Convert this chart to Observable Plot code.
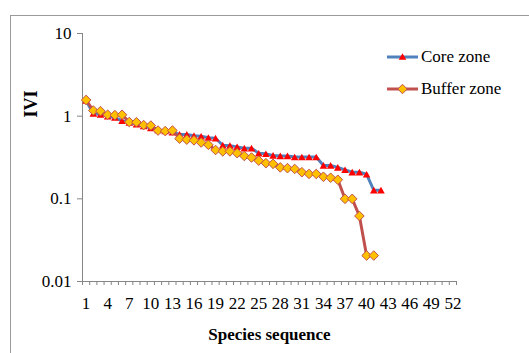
<!DOCTYPE html>
<html>
<head>
<meta charset="utf-8">
<script src="https://cdn.jsdelivr.net/npm/d3@7"></script>
<script src="https://cdn.jsdelivr.net/npm/@observablehq/plot@0.6"></script>
<style>
  body { margin: 0; background: #fff; }
  #wrap { position: relative; width: 529px; height: 353px; overflow: hidden; font-family: "Liberation Serif", "Times New Roman", serif; }
  #border { position: absolute; left: 10px; top: 15px; width: 600px; height: 400px; border-left: 1px solid #9a9a9a; border-top: 1px solid #9a9a9a; }
  #chart { position: absolute; left: 0; top: 0; }
  #legend { position: absolute; left: 386px; top: 45px; }
  .lg { display: flex; align-items: center; height: 24px; margin-bottom: 8px; font-size: 17px; color: #000; }
  .lg svg { margin-right: 2px; }
</style>
</head>
<body>
<div id="wrap">
  <div id="border"></div>
  <div id="chart"></div>
  <div id="legend">
    <div class="lg"><svg width="33" height="12"><line x1="1" x2="32" y1="6" y2="6" stroke="#4F81BD" stroke-width="3"/><path d="M16.5,2.3L20.3,8.8L12.7,8.8Z" fill="#FF0000"/></svg><span>Core zone</span></div>
    <div class="lg"><svg width="33" height="12"><line x1="1" x2="32" y1="6" y2="6" stroke="#C0504D" stroke-width="3"/><path d="M16.5,1.3L21.2,6L16.5,10.7L11.8,6Z" fill="#FFC000" stroke="#C0504D" stroke-width="1"/></svg><span>Buffer zone</span></div>
  </div>
</div>
<script>
const species = d3.range(1, 53);
const xLabels = [1, 4, 7, 10, 13, 16, 19, 22, 25, 28, 31, 34, 37, 40, 43, 46, 49, 52];
const yTicks = [0.01, 0.1, 1, 10];
const coreZone = [1.55, 1.08, 1.05, 1.0, 0.96, 0.88, 0.84, 0.8, 0.76, 0.72, 0.68, 0.66, 0.64, 0.6, 0.6, 0.58, 0.57, 0.55, 0.54, 0.445, 0.44, 0.425, 0.41, 0.41, 0.355, 0.35, 0.335, 0.33, 0.33, 0.32, 0.32, 0.32, 0.32, 0.253, 0.253, 0.24, 0.224, 0.21, 0.21, 0.198, 0.127, 0.127];
const bufferZone = [1.57, 1.17, 1.15, 1.04, 1.03, 1.04, 0.85, 0.845, 0.78, 0.77, 0.67, 0.66, 0.67, 0.535, 0.52, 0.51, 0.48, 0.45, 0.39, 0.375, 0.375, 0.357, 0.33, 0.316, 0.29, 0.27, 0.265, 0.24, 0.235, 0.23, 0.21, 0.2, 0.2, 0.185, 0.18, 0.17, 0.1, 0.1, 0.062, 0.0206, 0.0206];

const core = coreZone.map((v, i) => ({x: species[i], y: v}));
const buffer = bufferZone.map((v, i) => ({x: species[i], y: v}));
const boundaries = d3.range(0.5, species.length + 1, 1);

const diamond = {draw(ctx, size) { const h = Math.sqrt(size / Math.PI); ctx.moveTo(0, -h); ctx.lineTo(h, 0); ctx.lineTo(0, h); ctx.lineTo(-h, 0); ctx.closePath(); }};
const triangle = {draw(ctx, size) { const h = Math.sqrt(size / Math.PI); ctx.moveTo(0, -h * 0.9); ctx.lineTo(h, h * 0.85); ctx.lineTo(-h, h * 0.85); ctx.closePath(); }};

const axisColor = "#868686";
const font = "Liberation Serif, Times New Roman, serif";

const chart = Plot.plot({
  width: 529,
  height: 353,
  marginLeft: 82,
  marginRight: 73,
  marginTop: 33,
  marginBottom: 72,
  style: {fontFamily: font, fontSize: "17px", background: "transparent", color: "#000"},
  x: {type: "linear", domain: [0.5, species.length + 0.5]},
  y: {type: "log", domain: [0.01, 10]},
  marks: [
    Plot.ruleX([0.5], {stroke: axisColor, strokeWidth: 1}),
    Plot.ruleY([0.01], {stroke: axisColor, strokeWidth: 1}),
    Plot.axisY({ticks: yTicks, tickFormat: d => String(d), tickSize: 5, tickPadding: 6, stroke: axisColor, fill: "#000", fontSize: 17, label: null}),
    Plot.axisX({ticks: boundaries, tickFormat: () => "", tickSize: 4, stroke: axisColor, label: null}),
    Plot.axisX({ticks: xLabels, tickFormat: d => String(d), tickSize: 0, tickPadding: 15, fill: "#000", fontSize: 17, label: null}),
    Plot.line(core, {x: "x", y: "y", stroke: "#4F81BD", strokeWidth: 3}),
    Plot.dot(core, {x: "x", y: "y", symbol: triangle, r: 3.8, fill: "#FF0000", stroke: "none"}),
    Plot.line(buffer, {x: "x", y: "y", stroke: "#C0504D", strokeWidth: 3}),
    Plot.dot(buffer, {x: "x", y: "y", symbol: diamond, r: 4.8, fill: "#FFC000", stroke: "#C0504D", strokeWidth: 1}),
    Plot.text(["IVI"], {frameAnchor: "left", dx: -51, dy: -40, rotate: -90, fontWeight: "bold", fontSize: 18, fill: "#000"}),
    Plot.text(["Species sequence"], {frameAnchor: "bottom", dy: 58, fontWeight: "bold", fontSize: 17, fill: "#000"})
  ]
});
document.getElementById("chart").appendChild(chart);
</script>
</body>
</html>
